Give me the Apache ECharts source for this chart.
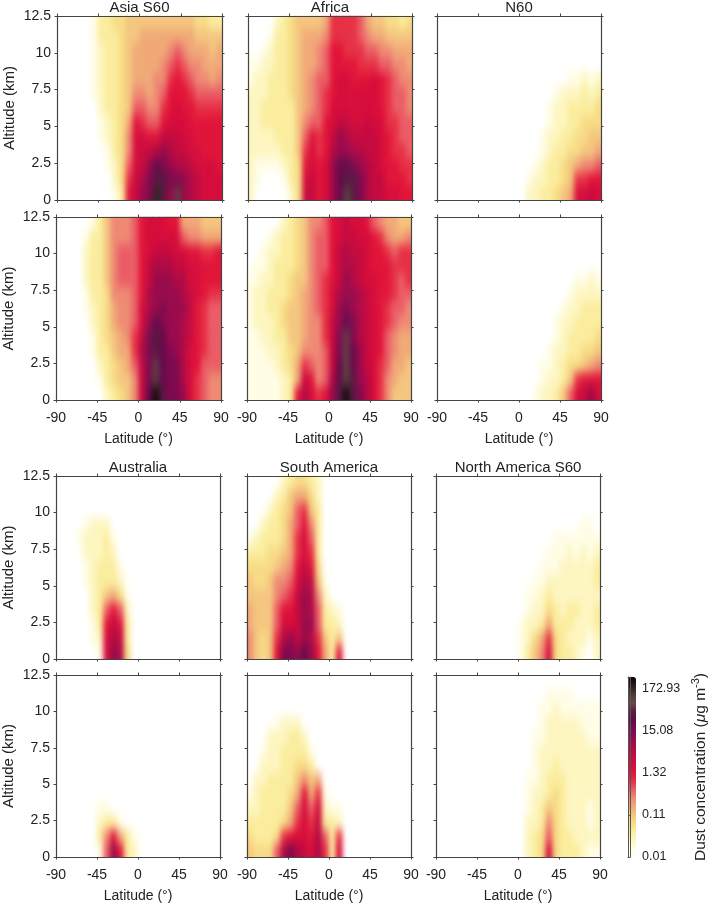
<!DOCTYPE html>
<html><head><meta charset="utf-8">
<style>html,body{margin:0;padding:0;background:#fff}#c{width:709px;height:904px}</style>
<script src="https://cdn.jsdelivr.net/npm/echarts@6/dist/echarts.min.js"></script>
</head><body><div id="c"></div>
<script>
// latitude bin centres, altitude bin centres (top row of each table first)
const latBins=[-86.25,-78.75,-71.25,-63.75,-56.25,-48.75,-41.25,-33.75,-26.25,-18.75,-11.25,-3.75,3.75,11.25,18.75,26.25,33.75,41.25,48.75,56.25,63.75,71.25,78.75,86.25];
const altBins=[12.0,11.1,10.1,9.1,8.2,7.2,6.2,5.3,4.3,3.4,2.4,1.4,0.5];
// colour-bar tick labels: one tick every 5 levels
const colorTicks=['0.01','0.11','1.32','15.08','172.93'];
// dust level, 0 = 0.01 ... 20 = 172.93 ug/m3
const asiaA=[
[0,0,0,0,0,1,3,3,4,4,5,5,5,5,5,5,5,5,5,5,4,4,3,3],
[0,0,0,0,0,1,3,3,3,4,5,5,6,6,6,6,6,6,6,6,5,5,5,5],
[0,0,0,0,0,1,2,3,3,4,5,6,6,6,6,6,7,8,7,6,6,6,5,6],
[0,0,0,0,0,1,2,3,3,4,5,6,6,6,6,7,8,9,8,7,7,6,6,6],
[0,0,0,0,0,1,2,3,3,4,5,6,6,6,7,7,9,10,9,8,7,7,6,7],
[0,0,0,0,0,1,2,3,3,4,5,7,7,6,7,8,10,10,10,9,8,8,8,8],
[0,0,0,0,0,0,2,3,3,4,5,8,8,7,7,9,10,11,10,10,9,9,9,9],
[0,0,0,0,0,0,1,2,3,4,6,10,9,8,8,10,11,11,11,10,10,10,10,10],
[0,0,0,0,0,0,1,2,3,4,7,11,11,10,10,12,12,12,11,11,10,10,10,10],
[0,0,0,0,0,0,0,1,3,4,7,11,12,12,13,14,13,12,12,11,11,10,10,10],
[0,0,0,0,0,0,0,1,2,4,8,11,12,14,16,15,14,13,13,12,11,11,11,10],
[0,0,0,0,0,0,0,0,2,4,9,12,13,15,17,17,15,15,14,13,12,11,11,11],
[0,0,0,0,0,0,0,0,1,3,10,12,14,15,20,17,14,18,14,13,12,11,11,11]];
const africaA=[
[0,0,0,0,2,3,4,5,5,5,5,6,9,9,9,9,8,6,5,5,4,4,3,4],
[0,0,0,1,3,3,4,5,6,6,6,7,9,9,9,9,8,7,6,6,5,5,5,5],
[0,0,1,2,3,3,4,5,6,6,7,8,10,10,9,9,9,8,8,7,7,6,6,6],
[1,1,2,2,3,3,4,5,6,6,7,8,10,10,10,10,9,9,9,8,8,7,7,6],
[1,2,2,3,3,3,4,5,6,7,8,8,10,11,11,10,10,10,11,10,9,8,7,7],
[2,2,2,3,3,3,4,5,6,7,8,9,10,11,11,11,11,11,11,10,9,8,8,7],
[2,2,3,3,3,3,3,5,6,7,8,9,11,11,11,11,11,11,11,10,9,8,8,7],
[2,2,3,3,3,3,3,5,7,8,8,10,11,12,12,11,11,12,11,11,9,9,8,8],
[2,2,2,2,3,3,3,5,8,10,9,10,12,14,13,12,12,12,12,11,10,9,8,8],
[2,2,2,2,2,3,3,5,9,11,9,10,13,14,14,13,13,12,12,11,10,9,9,8],
[2,1,1,1,1,2,3,4,10,11,10,11,14,16,16,15,14,13,12,11,10,10,9,9],
[2,1,0,0,0,1,3,4,11,12,10,11,14,16,17,17,15,13,12,12,10,10,10,9],
[2,0,0,0,0,0,2,4,12,12,10,11,14,16,19,17,15,13,12,12,11,11,10,10]];
const n60A=[
[0,0,0,0,0,0,0,0,0,0,0,0,0,0,0,0,0,0,0,0,0,0,0,0],
[0,0,0,0,0,0,0,0,0,0,0,0,0,0,0,0,0,0,0,0,0,0,0,0],
[0,0,0,0,0,0,0,0,0,0,0,0,0,0,0,0,0,0,0,0,0,0,0,0],
[0,0,0,0,0,0,0,0,0,0,0,0,0,0,0,0,0,0,0,0,0,0,0,0],
[0,0,0,0,0,0,0,0,0,0,0,0,0,0,0,0,0,0,0,1,1,2,1,2],
[0,0,0,0,0,0,0,0,0,0,0,0,0,0,0,0,0,1,2,2,2,3,2,3],
[0,0,0,0,0,0,0,0,0,0,0,0,0,0,0,0,1,2,2,3,3,3,3,4],
[0,0,0,0,0,0,0,0,0,0,0,0,0,0,0,0,1,2,2,3,3,4,4,4],
[0,0,0,0,0,0,0,0,0,0,0,0,0,0,0,1,2,2,3,3,4,4,5,5],
[0,0,0,0,0,0,0,0,0,0,0,0,0,0,0,1,2,3,3,4,4,5,5,6],
[0,0,0,0,0,0,0,0,0,0,0,0,0,0,1,2,3,3,4,5,6,7,7,8],
[0,0,0,0,0,0,0,0,0,0,0,0,0,1,2,2,3,3,4,5,9,9,10,10],
[0,0,0,0,0,0,0,0,0,0,0,0,0,2,2,3,3,4,5,6,11,11,12,11]];
const asiaB=[
[0,0,0,0,0,1,3,5,7,7,7,8,10,11,11,11,10,10,6,6,6,5,5,5],
[0,0,0,0,1,3,3,5,7,7,7,8,10,11,11,11,11,11,8,7,7,6,6,6],
[0,0,0,0,2,3,3,5,7,8,8,8,10,11,12,12,12,11,11,10,10,9,9,10],
[0,0,0,0,2,3,3,5,7,8,8,8,10,12,13,13,13,12,12,11,11,10,10,10],
[0,0,0,0,2,3,3,5,7,8,8,8,10,12,14,14,14,13,13,11,11,10,10,10],
[0,0,0,0,1,3,3,4,7,7,7,8,10,13,14,14,14,14,13,12,11,10,9,9],
[0,0,0,0,1,2,3,4,6,7,7,8,11,13,14,15,14,14,14,12,10,9,8,8],
[0,0,0,0,0,2,3,4,6,7,7,8,11,14,16,15,14,14,13,12,10,9,8,8],
[0,0,0,0,0,1,3,4,5,6,7,9,12,15,17,16,14,14,13,12,10,9,8,8],
[0,0,0,0,0,1,3,3,5,6,6,9,13,15,17,16,15,14,13,11,10,9,8,8],
[0,0,0,0,0,0,2,3,4,5,6,8,12,15,18,16,15,15,13,11,10,8,8,8],
[0,0,0,0,0,0,1,3,4,5,5,7,12,15,19,16,15,15,13,11,9,8,7,7],
[0,0,0,0,0,0,0,2,3,4,5,7,12,16,21,17,15,15,14,11,9,8,7,7]];
const africaB=[
[0,0,0,0,0,2,3,4,5,7,7,8,10,11,12,11,11,10,8,7,6,6,5,5],
[0,0,0,1,2,3,3,4,5,7,8,8,10,11,12,12,11,11,10,9,7,6,6,7],
[0,0,1,2,2,3,3,4,5,7,8,8,10,12,13,12,12,11,10,10,9,8,9,9],
[0,1,1,2,3,3,3,4,5,7,8,8,10,12,13,13,12,11,10,10,10,9,9,9],
[1,1,2,2,3,3,4,5,5,7,8,9,10,12,14,13,12,11,11,10,10,9,8,9],
[1,2,2,3,3,3,4,5,6,7,8,9,11,13,14,14,13,12,11,10,10,9,8,8],
[1,2,2,3,3,4,5,5,6,7,8,9,11,14,15,14,13,12,11,10,9,8,8,7],
[1,2,2,2,3,4,5,5,6,7,7,9,12,14,16,15,13,12,11,10,9,8,7,7],
[1,1,2,2,3,3,5,5,6,7,7,9,12,15,18,15,13,12,11,10,8,7,6,6],
[1,1,1,2,2,3,4,5,7,7,7,8,12,15,18,16,14,12,11,10,8,7,6,6],
[1,1,1,1,2,3,4,6,9,8,7,8,12,16,18,16,14,12,11,9,8,6,6,5],
[1,1,1,1,1,2,3,6,12,10,7,8,13,16,19,17,14,13,11,9,7,6,5,5],
[1,1,1,1,1,2,3,10,13,11,9,10,14,17,21,17,15,13,11,9,7,5,5,5]];
const n60B=[
[0,0,0,0,0,0,0,0,0,0,0,0,0,0,0,0,0,0,0,0,0,0,0,0],
[0,0,0,0,0,0,0,0,0,0,0,0,0,0,0,0,0,0,0,0,0,0,0,0],
[0,0,0,0,0,0,0,0,0,0,0,0,0,0,0,0,0,0,0,0,0,0,0,0],
[0,0,0,0,0,0,0,0,0,0,0,0,0,0,0,0,0,0,0,0,0,0,0,0],
[0,0,0,0,0,0,0,0,0,0,0,0,0,0,0,0,0,0,0,0,1,1,2,1],
[0,0,0,0,0,0,0,0,0,0,0,0,0,0,0,0,0,0,0,1,2,2,2,2],
[0,0,0,0,0,0,0,0,0,0,0,0,0,0,0,0,0,0,1,2,2,3,3,3],
[0,0,0,0,0,0,0,0,0,0,0,0,0,0,0,0,0,1,2,2,3,3,3,3],
[0,0,0,0,0,0,0,0,0,0,0,0,0,0,0,0,0,1,2,3,3,3,3,4],
[0,0,0,0,0,0,0,0,0,0,0,0,0,0,0,0,1,2,2,3,3,4,4,5],
[0,0,0,0,0,0,0,0,0,0,0,0,0,0,0,1,1,2,3,4,4,5,6,7],
[0,0,0,0,0,0,0,0,0,0,0,0,0,0,0,1,2,2,3,5,9,10,10,10],
[0,0,0,0,0,0,0,0,0,0,0,0,0,0,1,2,2,3,5,8,11,12,14,11]];
const australiaA=[
[0,0,0,0,0,0,0,0,0,0,0,0,0,0,0,0,0,0,0,0,0,0,0,0],
[0,0,0,0,0,0,0,0,0,0,0,0,0,0,0,0,0,0,0,0,0,0,0,0],
[0,0,0,0,0,0,0,0,0,0,0,0,0,0,0,0,0,0,0,0,0,0,0,0],
[0,0,0,0,1,2,2,2,0,0,0,0,0,0,0,0,0,0,0,0,0,0,0,0],
[0,0,0,1,2,2,2,3,1,0,0,0,0,0,0,0,0,0,0,0,0,0,0,0],
[0,0,0,0,2,2,2,3,2,0,0,0,0,0,0,0,0,0,0,0,0,0,0,0],
[0,0,0,0,1,2,3,3,3,1,0,0,0,0,0,0,0,0,0,0,0,0,0,0],
[0,0,0,0,1,2,3,3,3,2,0,0,0,0,0,0,0,0,0,0,0,0,0,0],
[0,0,0,0,0,2,3,5,6,4,1,0,0,0,0,0,0,0,0,0,0,0,0,0],
[0,0,0,0,0,2,3,8,10,8,2,0,0,0,0,0,0,0,0,0,0,0,0,0],
[0,0,0,0,0,1,3,10,12,10,3,0,0,0,0,0,0,0,0,0,0,0,0,0],
[0,0,0,0,0,1,2,11,13,12,3,0,0,0,0,0,0,0,0,0,0,0,0,0],
[0,0,0,0,0,0,1,11,14,13,4,0,0,0,0,0,0,0,0,0,0,0,0,0]];
const southAmericaA=[
[0,0,0,0,0,2,3,4,4,3,2,0,0,0,0,0,0,0,0,0,0,0,0,0],
[0,0,0,0,2,3,5,6,6,4,2,0,0,0,0,0,0,0,0,0,0,0,0,0],
[0,0,0,2,3,4,5,8,9,5,3,0,0,0,0,0,0,0,0,0,0,0,0,0],
[0,0,2,3,3,4,6,8,10,7,3,0,0,0,0,0,0,0,0,0,0,0,0,0],
[1,2,3,3,3,4,6,9,11,8,3,0,0,0,0,0,0,0,0,0,0,0,0,0],
[3,3,3,4,4,5,6,9,11,9,3,0,0,0,0,0,0,0,0,0,0,0,0,0],
[4,4,4,4,5,6,7,10,12,10,4,0,0,0,0,0,0,0,0,0,0,0,0,0],
[5,4,4,5,7,7,8,11,13,12,5,1,0,0,0,0,0,0,0,0,0,0,0,0],
[5,5,5,5,7,8,9,12,14,13,7,2,0,0,0,0,0,0,0,0,0,0,0,0],
[6,5,5,5,8,10,10,12,14,13,8,3,2,1,0,0,0,0,0,0,0,0,0,0],
[6,5,5,5,8,11,11,12,14,14,8,3,3,2,0,0,0,0,0,0,0,0,0,0],
[7,5,4,5,9,13,14,12,14,13,9,5,3,5,0,0,0,0,0,0,0,0,0,0],
[7,5,4,5,10,15,15,14,16,14,10,6,3,10,0,0,0,0,0,0,0,0,0,0]];
const northAmericaA=[
[0,0,0,0,0,0,0,0,0,0,0,0,0,0,0,0,0,0,0,0,0,0,0,0],
[0,0,0,0,0,0,0,0,0,0,0,0,0,0,0,0,0,0,0,0,0,0,0,0],
[0,0,0,0,0,0,0,0,0,0,0,0,0,0,0,0,0,0,0,0,0,0,0,0],
[0,0,0,0,0,0,0,0,0,0,0,0,0,0,0,0,0,0,0,0,0,1,1,0],
[0,0,0,0,0,0,0,0,0,0,0,0,0,0,0,0,0,1,1,1,1,1,1,1],
[0,0,0,0,0,0,0,0,0,0,0,0,0,0,0,0,1,1,1,2,1,2,1,2],
[0,0,0,0,0,0,0,0,0,0,0,0,0,0,0,1,1,1,2,2,2,2,2,3],
[0,0,0,0,0,0,0,0,0,0,0,0,0,0,1,1,2,2,2,2,2,2,2,3],
[0,0,0,0,0,0,0,0,0,0,0,0,0,1,1,2,3,2,2,2,2,2,2,2],
[0,0,0,0,0,0,0,0,0,0,0,0,0,1,2,2,4,3,2,3,3,2,2,3],
[0,0,0,0,0,0,0,0,0,0,0,0,1,2,2,3,6,3,3,3,2,2,2,3],
[0,0,0,0,0,0,0,0,0,0,0,0,1,2,4,6,9,4,3,2,2,2,1,2],
[0,0,0,0,0,0,0,0,0,0,0,0,1,3,5,7,11,4,3,3,2,1,0,2]];
const australiaB=[
[0,0,0,0,0,0,0,0,0,0,0,0,0,0,0,0,0,0,0,0,0,0,0,0],
[0,0,0,0,0,0,0,0,0,0,0,0,0,0,0,0,0,0,0,0,0,0,0,0],
[0,0,0,0,0,0,0,0,0,0,0,0,0,0,0,0,0,0,0,0,0,0,0,0],
[0,0,0,0,0,0,0,0,0,0,0,0,0,0,0,0,0,0,0,0,0,0,0,0],
[0,0,0,0,0,0,0,0,0,0,0,0,0,0,0,0,0,0,0,0,0,0,0,0],
[0,0,0,0,0,0,0,0,0,0,0,0,0,0,0,0,0,0,0,0,0,0,0,0],
[0,0,0,0,0,0,0,0,0,0,0,0,0,0,0,0,0,0,0,0,0,0,0,0],
[0,0,0,0,0,0,0,0,0,0,0,0,0,0,0,0,0,0,0,0,0,0,0,0],
[0,0,0,0,0,0,0,0,0,0,0,0,0,0,0,0,0,0,0,0,0,0,0,0],
[0,0,0,0,0,0,1,1,0,0,0,0,0,0,0,0,0,0,0,0,0,0,0,0],
[0,0,0,0,0,0,2,3,3,1,0,0,0,0,0,0,0,0,0,0,0,0,0,0],
[0,0,0,0,0,0,3,7,10,6,3,1,0,0,0,0,0,0,0,0,0,0,0,0],
[0,0,0,0,0,0,1,8,14,10,3,2,0,0,0,0,0,0,0,0,0,0,0,0]];
const southAmericaB=[
[0,0,0,0,0,0,0,0,0,0,0,0,0,0,0,0,0,0,0,0,0,0,0,0],
[0,0,0,0,0,0,0,0,0,0,0,0,0,0,0,0,0,0,0,0,0,0,0,0],
[0,0,0,0,0,0,0,0,0,0,0,0,0,0,0,0,0,0,0,0,0,0,0,0],
[0,0,0,0,1,2,2,2,0,0,0,0,0,0,0,0,0,0,0,0,0,0,0,0],
[0,0,0,2,2,2,3,3,2,0,0,0,0,0,0,0,0,0,0,0,0,0,0,0],
[0,0,1,2,2,3,3,3,3,1,0,0,0,0,0,0,0,0,0,0,0,0,0,0],
[0,0,2,2,2,3,3,4,4,3,0,0,0,0,0,0,0,0,0,0,0,0,0,0],
[0,2,2,3,3,3,3,5,7,5,6,0,0,0,0,0,0,0,0,0,0,0,0,0],
[1,2,3,3,3,3,4,6,10,6,9,1,0,0,0,0,0,0,0,0,0,0,0,0],
[2,2,3,3,3,3,5,8,11,8,11,2,1,1,0,0,0,0,0,0,0,0,0,0],
[3,3,3,3,3,4,6,9,11,9,12,3,3,2,0,0,0,0,0,0,0,0,0,0],
[4,3,3,3,4,9,10,11,11,10,13,8,3,9,0,0,0,0,0,0,0,0,0,0],
[5,4,4,4,8,13,15,13,12,11,13,9,3,11,0,0,0,0,0,0,0,0,0,0]];
const northAmericaB=[
[0,0,0,0,0,0,0,0,0,0,0,0,0,0,0,0,0,0,0,0,0,0,0,0],
[0,0,0,0,0,0,0,0,0,0,0,0,0,0,0,0,1,1,1,1,0,0,0,0],
[0,0,0,0,0,0,0,0,0,0,0,0,0,0,0,1,1,2,1,1,1,1,1,1],
[0,0,0,0,0,0,0,0,0,0,0,0,0,0,0,1,2,2,2,2,2,1,1,1],
[0,0,0,0,0,0,0,0,0,0,0,0,0,0,1,1,2,2,2,2,2,2,1,1],
[0,0,0,0,0,0,0,0,0,0,0,0,0,0,1,2,2,2,2,2,2,2,2,2],
[0,0,0,0,0,0,0,0,0,0,0,0,0,0,1,2,2,3,2,2,2,2,2,2],
[0,0,0,0,0,0,0,0,0,0,0,0,0,1,1,2,3,3,3,2,2,2,2,2],
[0,0,0,0,0,0,0,0,0,0,0,0,0,1,2,2,3,4,3,2,2,2,2,2],
[0,0,0,0,0,0,0,0,0,0,0,0,0,1,2,3,5,4,3,2,2,2,1,2],
[0,0,0,0,0,0,0,0,0,0,0,0,0,2,2,3,7,4,3,2,2,2,1,2],
[0,0,0,0,0,0,0,0,0,0,0,0,0,2,3,4,8,4,3,3,2,2,2,2],
[0,0,0,0,0,0,0,0,0,0,0,0,0,2,3,4,11,4,3,3,3,2,1,1]];

const tables=[asiaA,africaA,n60A,asiaB,africaB,n60B,australiaA,southAmericaA,northAmericaA,australiaB,southAmericaB,northAmericaB];
const panelTitles=['Asia S60','Africa','N60','','','','Australia','South America','North America S60','','',''];
const panelBoxes=[[57,16,165,184],[248,16,164,184],[437,16,164,184],[56,217,165,183],[247,217,164,183],[437,217,164,183],[56,476,164,183],[247,476,164,183],[436,476,164,183],[56,675,164,183],[247,675,164,183],[436,675,164,183]];
const colorStops=['#ffffff','#fffde4','#fdf6c0','#fbec9c','#f7db84','#f4c47e','#f1a676','#ee8672','#ea5664','#e6283f','#e01038','#d40c3c','#c20a40','#ac0a48','#920a4e','#780a50','#600a48','#562040','#6b4848','#4e3838','#2a1c1c','#060303'];

const ink='#222', line='#444', font='"Liberation Sans",Arial,sans-serif';
const grids=[],xs=[],ys=[],series=[],titles=[];
function valueAxisX(g,pos,showLabel,showName){return {type:'value',gridIndex:g,position:pos,min:-90,max:90,interval:45,zlevel:1,z:6,
  axisLine:{show:true,onZero:false,lineStyle:{color:line,width:1.2}},axisTick:{show:true,length:2.5,lineStyle:{color:line,width:1}},splitLine:{show:false},
  axisLabel:{show:showLabel,color:ink,fontSize:14,margin:11,fontFamily:font},
  name:showName?'Latitude (°)':'',nameLocation:'middle',nameGap:32,nameMoveOverlap:false,nameTextStyle:{color:ink,fontSize:14,fontFamily:font}};}
function valueAxisY(g,pos,showLabel){return {type:'value',gridIndex:g,position:pos,min:0,max:12.5,interval:2.5,zlevel:1,z:6,
  axisLine:{show:true,onZero:false,lineStyle:{color:line,width:1.2}},axisTick:{show:true,length:2.5,lineStyle:{color:line,width:1}},splitLine:{show:false},
  axisLabel:{show:showLabel,color:ink,fontSize:14,margin:6,fontFamily:font},
  name:showLabel?'Altitude (km)':'',nameLocation:'middle',nameGap:40,nameMoveOverlap:false,nameTextStyle:{color:ink,fontSize:15,fontFamily:font}};}
tables.forEach((rows,p)=>{
  const [l,t,w,h]=panelBoxes[p];
  grids.push({left:l,top:t,width:w,height:h});
  const ax=xs.length, ay=ys.length;
  xs.push({type:'category',gridIndex:p,data:latBins.map(String),show:false});
  ys.push({type:'category',gridIndex:p,data:altBins.slice().reverse().map(String),show:false});
  const bottomRow=(p>=3&&p<6)||p>=9;
  xs.push(valueAxisX(p,'bottom',bottomRow,bottomRow),valueAxisX(p,'top',false,false));
  ys.push(valueAxisY(p,'left',p%3===0),valueAxisY(p,'right',false));
  const data=[];
  rows.forEach((row,r)=>row.forEach((v,c)=>data.push([c,altBins.length-1-r,v])));
  series.push({type:'heatmap',xAxisIndex:ax,yAxisIndex:ay,data,silent:true,progressive:0,animation:false,itemStyle:{borderWidth:0}});
  if(panelTitles[p]) titles.push({text:panelTitles[p],zlevel:1,left:l+w/2,top:t-16,textAlign:'center',padding:0,textStyle:{fontSize:15,fontWeight:'normal',color:ink,fontFamily:font}});
});
// colour bar frame and tick labels
const cb=tables.length;
grids.push({left:628,top:677,width:8,height:180});
const barLine={show:true,onZero:false,lineStyle:{color:'#555',width:1}};
xs.push({type:'value',gridIndex:cb,position:'bottom',min:0,max:1,zlevel:1,z:8,axisLine:barLine,axisTick:{show:false},axisLabel:{show:false},splitLine:{show:false}},
        {type:'value',gridIndex:cb,position:'top',min:0,max:1,zlevel:1,z:8,axisLine:barLine,axisTick:{show:false},axisLabel:{show:false},splitLine:{show:false}});
ys.push({type:'value',gridIndex:cb,position:'left',min:0,max:21.4,zlevel:1,z:8,axisLine:barLine,axisTick:{show:false},axisLabel:{show:false},splitLine:{show:false}},
        {type:'value',gridIndex:cb,position:'right',min:0,max:21.4,interval:5,zlevel:1,z:8,axisLine:barLine,
         axisTick:{show:true,inside:true,length:2,lineStyle:{color:'#555'}},splitLine:{show:false},
         axisLabel:{color:ink,fontSize:12.5,margin:12,fontFamily:font,showMaxLabel:false,align:'left',formatter:v=>colorTicks[v/5]||''},
         name:'{a|Dust concentration (}{i|μ}{a|g m}{s|-3}{a|)}',nameLocation:'middle',nameGap:60,nameRotate:90,nameMoveOverlap:false,
         nameTextStyle:{rich:{a:{fontSize:15.5,color:ink,fontFamily:font},i:{fontSize:15.5,fontStyle:'italic',color:ink,fontFamily:font},s:{fontSize:11,color:ink,fontFamily:font,verticalAlign:'top',lineHeight:22}}}});

const chart=echarts.init(document.getElementById('c'),null,{renderer:'canvas'});
// soften the cell edges of the heat layer (axes and text live on a separate layer)
function softenPanels(){
  const cv=chart.getDom().querySelectorAll('canvas')[0], ctx=cv.getContext('2d'), P=24;
  panelBoxes.forEach(([l,t,w,h])=>{
    const a=document.createElement('canvas'); a.width=w+2*P; a.height=h+2*P;
    const o=a.getContext('2d');
    o.drawImage(cv,l+1,t+1,w-2,h-2,P,P,w,h);
    o.drawImage(a,P,P,1,h,0,P,P,h);
    o.drawImage(a,P+w-1,P,1,h,P+w,P,P,h);
    o.drawImage(a,0,P,w+2*P,1,0,0,w+2*P,P);
    o.drawImage(a,0,P+h-1,w+2*P,1,0,P+h,w+2*P,P);
    const b=document.createElement('canvas'); b.width=w+2*P; b.height=Math.ceil((h+2*P)/2);
    const q=b.getContext('2d'); q.filter='blur(2.4px)'; q.drawImage(a,0,0,b.width,b.height);
    ctx.save(); ctx.beginPath(); ctx.rect(l,t,w,h); ctx.clip();
    ctx.imageSmoothingQuality='high'; ctx.drawImage(b,l-P,t-P,w+2*P,h+2*P); ctx.restore();
  });
}
chart.on('finished',function once(){chart.off('finished',once);softenPanels();});
chart.setOption({
  animation:false,backgroundColor:'#fff',title:titles,grid:grids,xAxis:xs,yAxis:ys,series,
  visualMap:{type:'continuous',min:0,max:21.4,seriesIndex:series.map((s,i)=>i),inRange:{color:colorStops},zlevel:1,
    left:628,top:677,itemWidth:8,itemHeight:180,padding:0,calculable:false,text:null,showLabel:false,hoverLink:false,realtime:false}
});
</script></body></html>
